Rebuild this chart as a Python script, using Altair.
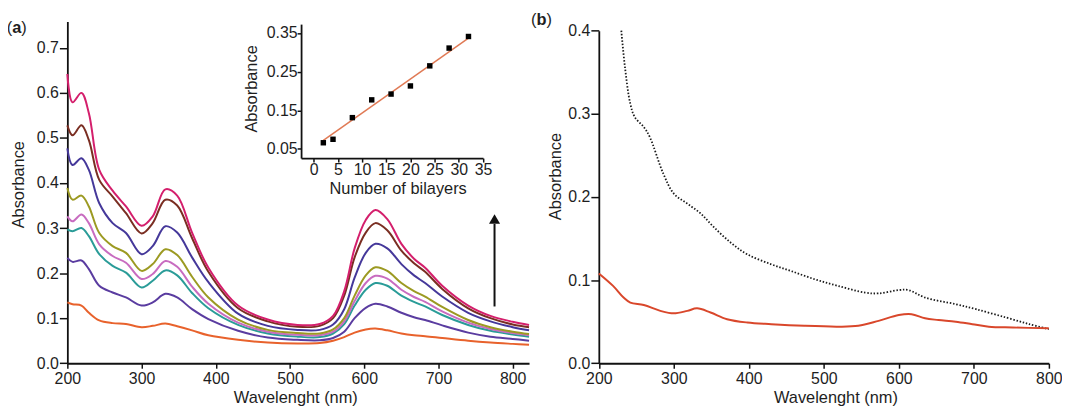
import altair as alt
import pandas as pd

# ---------------- Panel (a): spectra ----------------
wavelength_a = [200, 207, 219, 229, 243, 261, 279, 300, 315, 332, 348, 368, 390,
                430, 470, 510, 540, 558, 573, 587, 602, 615, 631, 650, 667, 682, 705, 740, 770, 800, 822]

curve_orange = [0.135, 0.131, 0.128, 0.112, 0.095, 0.089, 0.087, 0.080, 0.083, 0.088, 0.082, 0.073, 0.062,
                0.052, 0.046, 0.044, 0.045, 0.050, 0.058, 0.068, 0.075, 0.077, 0.073, 0.066, 0.062, 0.060, 0.056, 0.050, 0.046, 0.043, 0.041]
curve_purple = [0.234, 0.225, 0.228, 0.209, 0.172, 0.157, 0.146, 0.128, 0.135, 0.154, 0.146, 0.120, 0.098,
                0.072, 0.057, 0.052, 0.051, 0.056, 0.070, 0.100, 0.123, 0.132, 0.126, 0.112, 0.102, 0.096, 0.084, 0.068, 0.059, 0.054, 0.050]
curve_teal = [0.297, 0.293, 0.300, 0.282, 0.242, 0.216, 0.201, 0.168, 0.183, 0.206, 0.195, 0.156, 0.122,
              0.085, 0.066, 0.059, 0.058, 0.066, 0.087, 0.128, 0.163, 0.178, 0.172, 0.150, 0.136, 0.126, 0.107, 0.085, 0.072, 0.064, 0.059]
curve_violet = [0.326, 0.315, 0.330, 0.311, 0.264, 0.238, 0.223, 0.187, 0.198, 0.227, 0.214, 0.170, 0.132,
                0.090, 0.070, 0.063, 0.062, 0.070, 0.093, 0.138, 0.178, 0.194, 0.188, 0.163, 0.147, 0.136, 0.115, 0.090, 0.076, 0.067, 0.062]
curve_olive = [0.389, 0.363, 0.372, 0.348, 0.289, 0.260, 0.245, 0.205, 0.220, 0.253, 0.240, 0.192, 0.146,
               0.097, 0.074, 0.067, 0.066, 0.075, 0.100, 0.150, 0.195, 0.213, 0.205, 0.178, 0.160, 0.148, 0.125, 0.096, 0.080, 0.070, 0.065]
curve_blue = [0.477, 0.440, 0.455, 0.429, 0.355, 0.311, 0.289, 0.242, 0.260, 0.304, 0.290, 0.235, 0.180,
              0.110, 0.083, 0.074, 0.074, 0.086, 0.120, 0.190, 0.245, 0.265, 0.255, 0.220, 0.195, 0.178, 0.148, 0.112, 0.093, 0.080, 0.073]
curve_brown = [0.528, 0.506, 0.528, 0.495, 0.407, 0.370, 0.333, 0.288, 0.311, 0.363, 0.350, 0.278, 0.203,
               0.122, 0.093, 0.081, 0.083, 0.100, 0.150, 0.235, 0.290, 0.311, 0.295, 0.250, 0.222, 0.203, 0.165, 0.122, 0.100, 0.086, 0.080]
curve_magenta = [0.642, 0.579, 0.600, 0.555, 0.429, 0.383, 0.348, 0.305, 0.326, 0.386, 0.372, 0.290, 0.212,
                 0.128, 0.097, 0.085, 0.087, 0.105, 0.160, 0.255, 0.318, 0.340, 0.320, 0.265, 0.232, 0.212, 0.172, 0.128, 0.105, 0.092, 0.085]

curve_names = ["c1", "c2", "c3", "c4", "c5", "c6", "c7", "c8"]
curve_values = [curve_orange, curve_purple, curve_teal, curve_violet,
                curve_olive, curve_blue, curve_brown, curve_magenta]
curve_colors = ["#e8622c", "#5a3ca0", "#2a9c98", "#c86cc0",
                "#9c9a22", "#45389a", "#7a2e22", "#d41f6c"]

# arrow (data coordinates)
arrow_wl = [775.5]
arrow_bottom = [0.126]
arrow_top = [0.309]
arrow_head = [0.320]

# ---------------- Inset ----------------
bilayers = [2, 4, 8, 12, 16, 20, 24, 28, 32]
inset_abs = [0.066, 0.075, 0.131, 0.177, 0.192, 0.213, 0.265, 0.311, 0.341]
fit_x = [2, 32]
fit_y = [0.072, 0.337]

# ---------------- Panel (b) ----------------
wl_b_red = [200, 219, 233, 242, 260, 282, 300, 318, 331, 349, 371, 398, 430, 474, 519, 546, 573,
            600, 617, 635, 653, 676, 698, 720, 752, 800]
abs_b_red = [0.108, 0.093, 0.079, 0.073, 0.070, 0.063, 0.060, 0.063, 0.066, 0.061, 0.053, 0.049, 0.047,
             0.045, 0.044, 0.045, 0.051, 0.058, 0.059, 0.054, 0.052, 0.050, 0.047, 0.044, 0.043, 0.042]
wl_b_dot = [230, 235, 242, 248, 260, 268, 286, 300, 318, 336, 353, 376, 398, 430, 456, 488, 519,
            555, 573, 600, 613, 635, 676, 703, 743, 774, 800]
abs_b_dot = [0.400, 0.355, 0.312, 0.296, 0.284, 0.272, 0.228, 0.204, 0.192, 0.180, 0.164, 0.145, 0.131,
             0.119, 0.111, 0.101, 0.093, 0.085, 0.084, 0.088, 0.088, 0.079, 0.071, 0.065, 0.055, 0.047, 0.041]

FONT = "Liberation Sans"
TXT = "#1e1e1e"

# ----- build tables -----
rows = []
for name, vals in zip(curve_names, curve_values):
    for w, v in zip(wavelength_a, vals):
        rows.append({"wl": w, "A": v, "curve": name})
df_a = pd.DataFrame(rows)
df_arrow = pd.DataFrame({"wl": arrow_wl, "A": arrow_bottom, "A2": arrow_top})
df_head = pd.DataFrame({"wl": arrow_wl, "A": arrow_head})
df_in = pd.DataFrame({"n": bilayers, "v": inset_abs})
df_fit = pd.DataFrame({"n": fit_x, "v": fit_y})
df_red = pd.DataFrame({"wl": wl_b_red, "A": abs_b_red})
df_dot = pd.DataFrame({"wl": wl_b_dot, "A": abs_b_dot})

W = 465.2
H = 344.4

base_axis = dict(grid=False, domainColor="#111111", domainWidth=1.8, tickColor="#111111",
                 tickWidth=1.5, labelFont=FONT, labelFontSize=16, labelColor=TXT, labelFlush=False,
                 titleFont=FONT, titleFontSize=16.5, titleColor=TXT, titleFontWeight="normal",
                 titleBaseline="middle", titleAlign="center")

# Panel (a)
xa = alt.X("wl:Q", scale=alt.Scale(domain=[200, 822], nice=False, zero=False),
           axis=alt.Axis(values=[200, 300, 400, 500, 600, 700, 800], title="Wavelenght (nm)",
                         tickSize=5, labelPadding=2, titleX=229.7, titleY=35, **base_axis))
ya = alt.Y("A:Q", scale=alt.Scale(domain=[0, 0.7586], nice=False, zero=False),
           axis=alt.Axis(values=[0, 0.1, 0.2, 0.3, 0.4, 0.5, 0.6, 0.7], format=".1f", title="Absorbance",
                         tickSize=8, labelPadding=1, titleX=-48.8, titleY=164, titleAngle=270, **base_axis))

lines = alt.Chart(df_a).mark_line(strokeWidth=2, interpolate="catmull-rom").encode(
    x=xa, y=ya,
    color=alt.Color("curve:N", scale=alt.Scale(domain=curve_names, range=curve_colors), legend=None),
)
rule = alt.Chart(df_arrow).mark_rule(color="#111111", strokeWidth=2).encode(x=xa, y=ya, y2="A2:Q")
head = alt.Chart(df_head).mark_point(shape="triangle-up", size=125, filled=True, color="#111111",
                                     opacity=1).encode(x=xa, y=ya)
panel_a = alt.layer(lines, rule, head)

# Inset
xi = alt.X("n:Q", scale=alt.Scale(domain=[-2.6, 35], range=[235.5, 418.8], nice=False, zero=False),
           axis=alt.Axis(orient="bottom", offset=-206.7, values=[0, 5, 10, 15, 20, 25, 30, 35],
                         title="Number of bilayers", tickSize=4, labelPadding=0,
                         titleX=332.8, titleY=30.6, **base_axis))
yi = alt.Y("v:Q", scale=alt.Scale(domain=[0.0263, 0.373], range=[137.7, 2.7], nice=False, zero=False),
           axis=alt.Axis(orient="left", offset=-235.5, values=[0.05, 0.15, 0.25, 0.35], format=".2f",
                         title="Absorbance", tickSize=4, labelPadding=0, titleX=-50, titleY=67.5,
                         titleAngle=270, **base_axis))
inset_fit = alt.Chart(df_fit).mark_line(color="#e07a55", strokeWidth=1.5).encode(x=xi, y=yi)
inset_pts = alt.Chart(df_in).mark_square(size=30, color="#000000", opacity=1).encode(x=xi, y=yi)
inset = alt.layer(inset_fit, inset_pts)

# Panel (b)
xb = alt.X("wl:Q", scale=alt.Scale(domain=[200, 800], range=[535.5, 988.9], nice=False, zero=False),
           axis=alt.Axis(orient="bottom", offset=0, values=[200, 300, 400, 500, 600, 700, 800],
                         title="Wavelenght (nm)", tickSize=5, labelPadding=2,
                         titleX=773.9, titleY=35, **base_axis))
yb = alt.Y("A:Q", scale=alt.Scale(domain=[0, 0.4], range=[344.4, 9.3], nice=False, zero=False),
           axis=alt.Axis(orient="left", offset=-535.5, values=[0, 0.1, 0.2, 0.3, 0.4], format=".1f",
                         title="Absorbance", tickSize=8, labelPadding=1, titleX=-43.9, titleY=155.8,
                         titleAngle=270, **base_axis))
red_b = alt.Chart(df_red).mark_line(color="#d9472b", strokeWidth=2, interpolate="catmull-rom").encode(x=xb, y=yb)
dot_b = alt.Chart(df_dot).mark_line(color="#1a1a1a", strokeWidth=1.8, strokeDash=[1.5, 1.8],
                                    interpolate="catmull-rom").encode(x=xb, y=yb)
panel_b = alt.layer(dot_b, red_b)

# Panel letters: "(" + bold letter + ")"
def letter(txt, x, y, bold=False):
    return alt.Chart(pd.DataFrame({"t": [txt]})).mark_text(
        font=FONT, fontSize=16.5, color=TXT, align="left", baseline="middle",
        fontWeight="bold" if bold else "normal").encode(
        text="t:N", x=alt.value(x), y=alt.value(y))

labels = [
    letter("(", -61.1, 6.7), letter("a", -55.6, 6.7, True), letter(")", -46.4, 6.7),
    letter("(", 467.2, -1.7), letter("b", 472.7, -1.7, True), letter(")", 482.8, -1.7),
]

chart = alt.layer(panel_a, inset, panel_b, *labels).resolve_scale(
    x="independent", y="independent"
).properties(
    width=W, height=H,
    autosize=alt.AutoSizeParams(type="none"),
    padding={"left": 59.8, "top": 12, "right": 537, "bottom": 50},
).configure_view(stroke=None)

chart.save("out.html", embed_options={"renderer": "svg", "actions": False})
